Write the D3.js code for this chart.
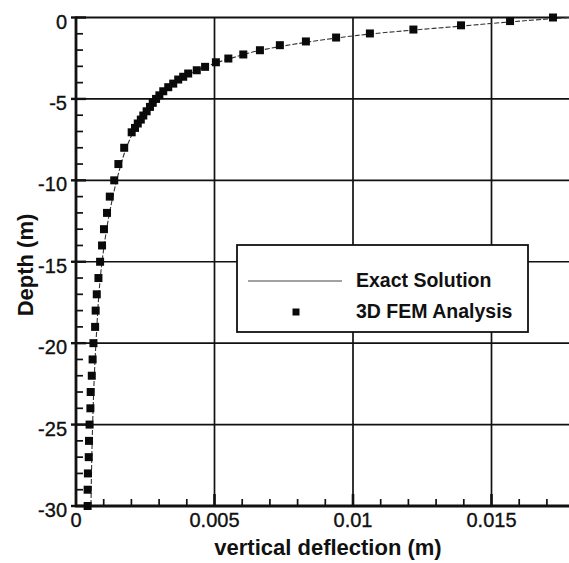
<!DOCTYPE html>
<html>
<head>
<meta charset="utf-8">
<script src="https://cdn.jsdelivr.net/npm/d3@7"></script>
<style>
  html, body { margin: 0; padding: 0; background: #fff; }
  svg { display: block; }
  text { font-family: "Liberation Sans", Arial, sans-serif; fill: #111; }
</style>
</head>
<body>
<svg id="chart" width="569" height="563"></svg>
<script>
// ---- data ----
const femDepth = [0, -0.22, -0.48, -0.74, -0.98, -1.23, -1.47, -1.70, -2.01, -2.27, -2.52, -2.75,
  -3.03, -3.24, -3.44, -3.64, -3.81, -4.06, -4.28, -4.53, -4.78, -5.0, -5.24, -5.49, -5.76,
  -6.02, -6.27, -6.51, -6.78, -7.05, -8, -9, -10, -11, -12, -13, -14, -15, -16, -17, -18,
  -19, -20, -21, -22, -23, -24, -25, -26, -27, -28, -29, -30];
const femDeflection = [0.01722, 0.01567, 0.0139, 0.01218, 0.01061, 0.00939, 0.0083, 0.00736,
  0.00664, 0.00604, 0.0055, 0.00505, 0.00466, 0.00436, 0.00405, 0.00387, 0.00369, 0.00351,
  0.00333, 0.00315, 0.00301, 0.00289, 0.00277, 0.00267, 0.00255, 0.00243, 0.00234, 0.00223,
  0.00213, 0.00201, 0.00174, 0.00153, 0.00138, 0.00122, 0.00112, 0.00101, 0.00094, 0.00087,
  0.00081, 0.00075, 0.00071, 0.00069, 0.00063, 0.0006, 0.00057, 0.00053, 0.00052, 0.00049,
  0.00047, 0.00046, 0.00043, 0.00042, 0.00042];

const exactDepth = [0, -0.25, -0.5, -1, -1.5, -2, -2.5, -3, -4, -5, -6, -7, -8, -10, -12, -15, -20, -25, -30];
const exactDeflection = [0.0178, 0.0158, 0.0141, 0.0107, 0.0084, 0.0067, 0.0056, 0.0047, 0.0036,
  0.0029, 0.00248, 0.00208, 0.00182, 0.00147, 0.00121, 0.00094, 0.00072, 0.0006, 0.00054];

const xTicks = [0, 0.005, 0.01, 0.015];
const xTickLabels = ["0", "0.005", "0.01", "0.015"];
const yTicks = [0, -5, -10, -15, -20, -25, -30];
const yTickLabels = ["0", "-5", "-10", "-15", "-20", "-25", "-30"];
const legendLabels = ["Exact Solution", "3D FEM Analysis"];
const xTitle = "vertical deflection (m)";
const yTitle = "Depth (m)";

(function () {
// ---- layout ----
const svg = d3.select("#chart");
const left = 76, bottomY = 506, topY = 17.5;
const x = d3.scaleLinear().domain([0, 0.018]).range([left, left + 0.018 * 27700]);
const y = d3.scaleLinear().domain([0, -30]).range([topY, bottomY]);
const rightX = x.range()[1];

// grid
const grid = svg.append("g").attr("stroke", "#111");
grid.selectAll("line.vg").data(xTicks.slice(1)).join("line")
  .attr("x1", d => x(d)).attr("x2", d => x(d)).attr("y1", topY).attr("y2", bottomY)
  .attr("stroke-width", 1.7);
grid.selectAll("line.hg").data(yTicks.slice(1, -1)).join("line")
  .attr("x1", left).attr("x2", rightX).attr("y1", d => y(d)).attr("y2", d => y(d))
  .attr("stroke-width", 1.7);
grid.append("line").attr("x1", left).attr("x2", rightX).attr("y1", y(0)).attr("y2", y(0))
  .attr("stroke-width", 2.2);

// minor ticks
const yMinor = d3.range(-1, -30, -1).filter(v => v % 5 !== 0);
const xMinor = d3.range(1, 19).map(i => i * 0.001).filter(v => Math.abs(v * 1000 % 5) > 1e-6);
svg.append("g").selectAll("line").data(yMinor).join("line")
  .attr("x1", left).attr("x2", left + 7).attr("y1", d => y(d)).attr("y2", d => y(d))
  .attr("stroke", "#111").attr("stroke-width", 1.7);
svg.append("g").selectAll("line").data(xMinor).join("line")
  .attr("x1", d => x(d)).attr("x2", d => x(d)).attr("y1", bottomY).attr("y2", bottomY - 7)
  .attr("stroke", "#111").attr("stroke-width", 1.7);
svg.append("g").selectAll("line").data(yTicks).join("line")
  .attr("x1", left - 5).attr("x2", left + 10).attr("y1", d => y(d)).attr("y2", d => y(d))
  .attr("stroke", "#111").attr("stroke-width", 2.4);
svg.append("g").selectAll("line").data(xTicks.slice(1)).join("line")
  .attr("x1", d => x(d)).attr("x2", d => x(d)).attr("y1", bottomY).attr("y2", bottomY - 12)
  .attr("stroke", "#111").attr("stroke-width", 2.6);

// axes lines
svg.append("line").attr("x1", left).attr("x2", left).attr("y1", topY - 1).attr("y2", bottomY + 1)
  .attr("stroke", "#111").attr("stroke-width", 2.8);
svg.append("line").attr("x1", left - 1).attr("x2", rightX).attr("y1", bottomY).attr("y2", bottomY)
  .attr("stroke", "#111").attr("stroke-width", 2.8);

// tick labels
svg.append("g").selectAll("text").data(yTicks).join("text")
  .attr("x", 67).attr("y", d => y(d)).attr("dy", "0.55em")
  .attr("text-anchor", "end").attr("font-size", 20)
  .attr("stroke", "#111").attr("stroke-width", 0.35)
  .text((d, i) => yTickLabels[i]);
svg.append("g").selectAll("text").data(xTicks).join("text")
  .attr("x", d => x(d)).attr("y", 527)
  .attr("text-anchor", "middle").attr("font-size", 20)
  .attr("stroke", "#111").attr("stroke-width", 0.35)
  .text((d, i) => xTickLabels[i]);

// axis titles
svg.append("text").attr("x", 328).attr("y", 555).attr("text-anchor", "middle")
  .attr("font-size", 22).attr("font-weight", "bold").text(xTitle);
svg.append("text").attr("transform", "translate(33,265) rotate(-90)").attr("text-anchor", "middle")
  .attr("font-size", 22).attr("font-weight", "bold").text(yTitle);

// exact solution line
const exact = exactDepth.map((d, i) => ({ d, v: exactDeflection[i] }));
svg.append("path").datum(exact)
  .attr("d", d3.line().x(p => x(p.v)).y(p => y(p.d)).curve(d3.curveMonotoneY))
  .attr("fill", "none").attr("stroke", "#333").attr("stroke-width", 1.1)
  .attr("stroke-dasharray", "5,2");

// FEM markers
const fem = femDepth.map((d, i) => ({ d, v: femDeflection[i] }));
const ms = 8;
svg.append("g").selectAll("rect").data(fem).join("rect")
  .attr("x", p => x(p.v) - ms / 2).attr("y", p => y(p.d) - ms / 2)
  .attr("width", ms).attr("height", ms).attr("fill", "#0a0a0a");

// legend
const lg = svg.append("g");
lg.append("rect").attr("x", 237).attr("y", 245).attr("width", 291).attr("height", 87)
  .attr("fill", "#fff").attr("stroke", "#111").attr("stroke-width", 1.8);
lg.append("line").attr("x1", 248).attr("x2", 342).attr("y1", 281).attr("y2", 281)
  .attr("stroke", "#444").attr("stroke-width", 1);
lg.append("rect").attr("x", 296 - 3.5).attr("y", 312 - 3.5).attr("width", 7).attr("height", 7)
  .attr("fill", "#0a0a0a");
lg.selectAll("text").data(legendLabels).join("text")
  .attr("x", 356).attr("y", (d, i) => i === 0 ? 287 : 318)
  .attr("font-size", 19.5).attr("font-weight", "bold").text(d => d);
})();
</script>
</body>
</html>
